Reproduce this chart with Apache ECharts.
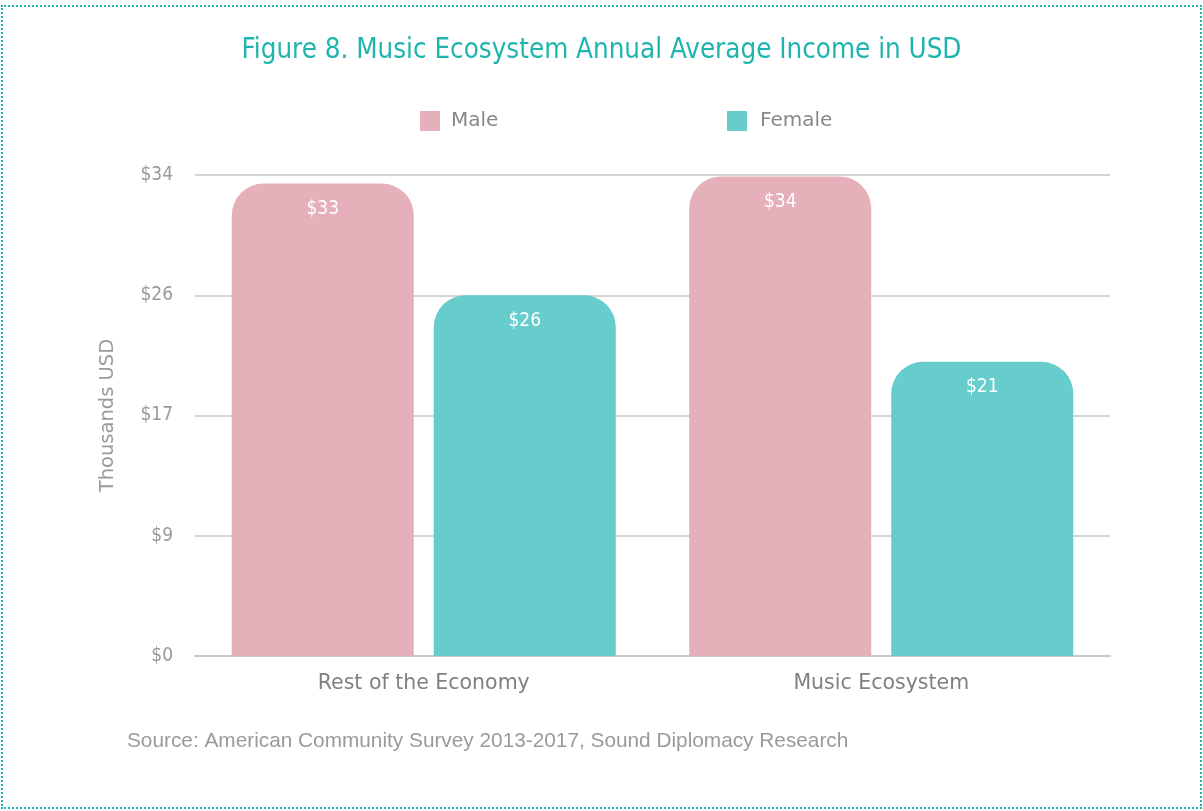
<!DOCTYPE html>
<html>
<head>
<meta charset="utf-8">
<script src="https://cdn.jsdelivr.net/npm/echarts@6/dist/echarts.min.js"></script>
<style>
  html, body { margin: 0; padding: 0; background: #fff; }
  #wrap { position: relative; width: 1203px; height: 811px; }
  #chart { position: absolute; left: 0; top: 0; width: 1203px; height: 811px; }
  #frame {
    position: absolute; left: 1px; top: 5px; width: 1197px; height: 800px;
    border: 2px dotted #1fb5ae; pointer-events: none;
  }
</style>
</head>
<body>
<div id="wrap">
  <div id="chart"></div>
  <div id="frame"></div>
</div>
<script>
// Annual average income, thousands of USD
const categories = ['Rest of the Economy', 'Music Ecosystem'];
const maleIncome = [33.4, 33.9];
const femaleIncome = [25.5, 20.8];
const axisMax = 34;
const axisStep = 8.5;

const FONT_NARROW = '"DejaVu Sans Condensed", "DejaVu Sans", sans-serif';
const FONT = '"DejaVu Sans", sans-serif';
const PINK = '#e5b0ba';
const TEAL = '#66cccc';
const money = v => '$' + Math.round(v);

const chart = echarts.init(document.getElementById('chart'), null, { renderer: 'canvas' });

const barLabel = {
  show: true,
  position: 'insideTop',
  distance: 16,
  color: '#ffffff',
  fontFamily: FONT_NARROW,
  fontSize: 19,
  formatter: p => money(p.value)
};

chart.setOption({
  animation: false,
  backgroundColor: '#ffffff',
  title: [
    {
      text: 'Figure 8. Music Ecosystem Annual Average Income in USD',
      left: 'center',
      top: 32,
      textStyle: { color: '#1fb5ae', fontFamily: FONT_NARROW, fontSize: 27.5, fontWeight: 'normal' }
    },
    {
      text: 'Source: American Community Survey 2013-2017, Sound Diplomacy Research',
      left: 127,
      top: 731,
      padding: 0,
      textStyle: { color: '#9a9a9a', fontFamily: '"Liberation Sans", Arial, sans-serif', fontSize: 20.8, fontWeight: 'normal' }
    }
  ],
  legend: [
    {
      data: ['Male'], left: 420, top: 111, padding: 0, itemWidth: 20, itemHeight: 20,
      icon: 'rect',
      textStyle: { color: '#888888', fontFamily: FONT, fontSize: 20, padding: [3, 0, 0, 6] }
    },
    {
      data: ['Female'], left: 727, top: 111, padding: 0, itemWidth: 20, itemHeight: 20,
      icon: 'rect',
      textStyle: { color: '#888888', fontFamily: FONT, fontSize: 20, padding: [3, 0, 0, 8] }
    }
  ],
  grid: { left: 195, right: 93, top: 175, bottom: 155, containLabel: false },
  xAxis: {
    type: 'category',
    data: categories,
    axisLine: { lineStyle: { color: '#c8c8c8', width: 2 } },
    axisTick: { show: false },
    axisLabel: { color: '#808080', fontFamily: FONT, fontSize: 20.5, margin: 17 }
  },
  yAxis: {
    type: 'value',
    min: 0,
    max: axisMax,
    interval: axisStep,
    name: 'Thousands USD',
    nameLocation: 'middle',
    nameGap: 77,
    nameTextStyle: { color: '#9a9a9a', fontFamily: FONT, fontSize: 19.5 },
    axisLine: { show: false },
    axisTick: { show: false },
    axisLabel: { color: '#9a9a9a', fontFamily: FONT_NARROW, fontSize: 19, margin: 22, formatter: money },
    splitLine: { lineStyle: { color: '#c8c8c8', width: 1.5 } }
  },
  series: [
    {
      name: 'Male', type: 'bar', data: maleIncome,
      barWidth: 182, barGap: '11%',
      itemStyle: { color: PINK, borderRadius: [32, 32, 0, 0] },
      label: barLabel
    },
    {
      name: 'Female', type: 'bar', data: femaleIncome,
      barWidth: 182,
      itemStyle: { color: TEAL, borderRadius: [32, 32, 0, 0] },
      label: barLabel
    }
  ]
});
</script>
</body>
</html>
